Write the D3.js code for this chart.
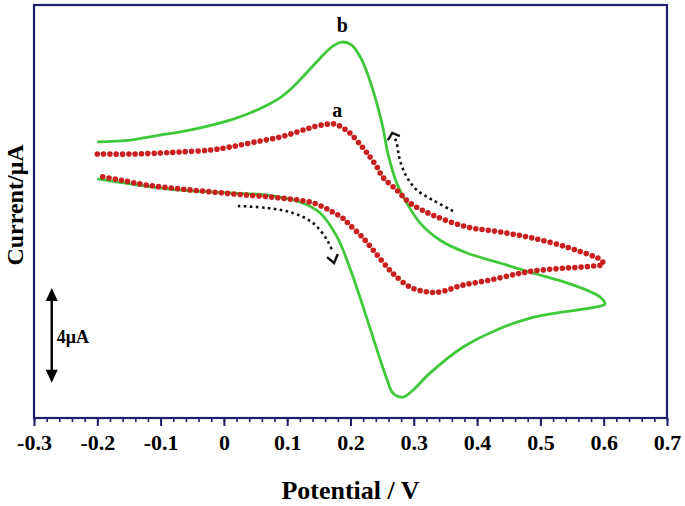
<!DOCTYPE html>
<html>
<head>
<meta charset="utf-8">
<script src="https://cdn.jsdelivr.net/npm/d3@7"></script>
<style>
  html, body { margin: 0; padding: 0; background: #fff; }
  svg { display: block; }
  text { font-family: "Liberation Serif", "Times New Roman", serif; font-weight: bold; fill: #000; }
</style>
</head>
<body>
<svg id="chart" width="685" height="506"></svg>
<script>
// ---- data (Potential in V, Current in µA) ----
const xTicks = [-0.3, -0.2, -0.1, 0, 0.1, 0.2, 0.3, 0.4, 0.5, 0.6, 0.7];
const xTickLabels = ["-0.3", "-0.2", "-0.1", "0", "0.1", "0.2", "0.3", "0.4", "0.5", "0.6", "0.7"];

// curve b (green, solid)
const curveB = [
  [-0.200, 2.43], [-0.148, 2.51], [-0.101, 2.72], [-0.069, 2.85], [0.010, 3.35], [0.041, 3.65],
  [0.068, 3.98], [0.089, 4.30], [0.104, 4.62], [0.120, 5.04], [0.136, 5.50], [0.152, 5.96],
  [0.172, 6.47], [0.187, 6.64], [0.202, 6.51],
  [0.218, 5.88], [0.234, 4.74], [0.251, 3.06], [0.259, 1.96], [0.273, 0.70], [0.289, -0.14],
  [0.310, -0.99], [0.341, -1.70], [0.384, -2.25], [0.436, -2.67], [0.488, -3.09], [0.542, -3.51],
  [0.583, -3.93], [0.596, -4.14], [0.602, -4.40],
  [0.589, -4.52], [0.536, -4.73], [0.484, -4.99], [0.431, -5.49], [0.378, -6.21], [0.326, -7.30],
  [0.299, -8.02], [0.283, -8.32], [0.267, -8.15], [0.258, -7.60], [0.242, -6.34], [0.220, -4.52],
  [0.199, -2.88], [0.179, -1.58], [0.152, -0.56], [0.120, -0.10], [0.068, 0.19], [0.010, 0.28],
  [-0.069, 0.40], [-0.148, 0.66], [-0.200, 0.87]
];

// curve a (red, dotted markers)
const curveA = [
  [-0.200, 1.92], [-0.148, 1.92], [-0.101, 1.96], [-0.069, 2.01], [-0.022, 2.09], [0.010, 2.22],
  [0.049, 2.43], [0.089, 2.64], [0.120, 2.89], [0.141, 3.06], [0.163, 3.18], [0.176, 3.18],
  [0.188, 3.02], [0.199, 2.81], [0.220, 2.17], [0.231, 1.79], [0.242, 1.37], [0.251, 0.95],
  [0.273, 0.40], [0.294, -0.14], [0.330, -0.65], [0.384, -1.15], [0.436, -1.36], [0.488, -1.62],
  [0.542, -2.00], [0.578, -2.33], [0.591, -2.46], [0.600, -2.71],
  [0.583, -2.80], [0.542, -2.88], [0.488, -3.01], [0.463, -3.13], [0.420, -3.39], [0.378, -3.60],
  [0.341, -3.89], [0.321, -3.89], [0.294, -3.68], [0.273, -3.26], [0.262, -2.97], [0.242, -2.33],
  [0.220, -1.62], [0.199, -1.07], [0.188, -0.78], [0.172, -0.52], [0.141, -0.14], [0.089, 0.07],
  [0.036, 0.19], [-0.017, 0.32], [-0.069, 0.45], [-0.121, 0.61], [-0.164, 0.83], [-0.196, 0.99],
  [-0.200, 1.04]
];

// scan-direction arrows (dotted)
const arrowUpper = [[0.362, -0.48], [0.330, -0.02], [0.305, 0.40], [0.289, 0.95], [0.278, 1.67], [0.273, 2.38], [0.270, 2.59]];
const arrowUpperHead = [[0.259, 2.51], [0.266, 2.81], [0.278, 2.68]];
const arrowLower = [[0.022, -0.27], [0.068, -0.35], [0.109, -0.56], [0.141, -0.99], [0.163, -1.70], [0.172, -2.21]];
const arrowLowerHead = [[0.163, -2.42], [0.174, -2.67], [0.180, -2.29]];

// curve labels
const curveLabels = [{ text: "a", v: 0.179, i: 3.48 }, { text: "b", v: 0.187, i: 7.06 }];

// scale bar: 4 µA
const scaleBar = { v: -0.272, top: -3.72, length: 4, label: "4μA" };

const xLabel = "Potential / V";
const yLabel = "Current/μA";

// ---- layout ----
const svg = d3.select("#chart");
const plot = { left: 34, right: 667, top: 5, bottom: 418 };
const x = d3.scaleLinear().domain([-0.3, 0.7]).range([plot.left, plot.right]);
const y = d3.scaleLinear().domain([-9.2, 8.2]).range([plot.bottom, plot.top]);
const navy = "#1d1f6b";

const line = d3.line().x(d => x(d[0])).y(d => y(d[1]));

// curve b
svg.append("path").attr("d", line.curve(d3.curveCatmullRom.alpha(0.5))(curveB))
  .attr("fill", "none").attr("stroke", "#3fc83a").attr("stroke-width", 2.8)
  .attr("stroke-linejoin", "round");

// curve a as dotted markers
svg.append("path").attr("d", line.curve(d3.curveCatmullRom.alpha(0.5))(curveA))
  .attr("fill", "none").attr("stroke", "#c91f1f").attr("stroke-width", 5.6)
  .attr("stroke-linecap", "round").attr("stroke-dasharray", "0 6.3");

// arrows
const straight = d3.line().x(d => x(d[0])).y(d => y(d[1]));
[arrowUpper, arrowLower].forEach(a => {
  svg.append("path").attr("d", line.curve(d3.curveCatmullRom.alpha(0.5))(a))
    .attr("fill", "none").attr("stroke", "#111").attr("stroke-width", 2.6)
    .attr("stroke-dasharray", "2.6 3.4");
});
[arrowUpperHead, arrowLowerHead].forEach(h => {
  svg.append("path").attr("d", straight(h))
    .attr("fill", "none").attr("stroke", "#111").attr("stroke-width", 2.4)
    .attr("stroke-linejoin", "miter");
});

// curve labels
svg.selectAll("text.clabel").data(curveLabels).enter().append("text")
  .attr("class", "clabel")
  .attr("x", d => x(d.v)).attr("y", d => y(d.i))
  .attr("text-anchor", "middle").attr("font-size", 20).text(d => d.text);

// scale bar
const sbx = x(scaleBar.v);
const sbTop = y(scaleBar.top), sbBot = y(scaleBar.top - scaleBar.length);
svg.append("line").attr("x1", sbx).attr("x2", sbx).attr("y1", sbTop + 8).attr("y2", sbBot - 8)
  .attr("stroke", "#000").attr("stroke-width", 2.4);
svg.append("path").attr("d", `M${sbx},${sbTop} L${sbx - 6},${sbTop + 13} L${sbx + 6},${sbTop + 13} Z`).attr("fill", "#000");
svg.append("path").attr("d", `M${sbx},${sbBot} L${sbx - 6},${sbBot - 13} L${sbx + 6},${sbBot - 13} Z`).attr("fill", "#000");
svg.append("text").attr("x", sbx + 5).attr("y", (sbTop + sbBot) / 2 + 8)
  .attr("font-size", 18).text(scaleBar.label);

// frame
svg.append("rect").attr("x", plot.left).attr("y", plot.top)
  .attr("width", plot.right - plot.left).attr("height", plot.bottom - plot.top)
  .attr("fill", "none").attr("stroke", navy).attr("stroke-width", 2.2);

// x axis: minor ticks
const minor = d3.range(0, 51).map(k => -0.3 + k * 0.02);
const minorAxis = svg.append("g").attr("transform", `translate(0,${plot.bottom})`)
  .call(d3.axisBottom(x).tickValues(minor).tickSize(4).tickFormat(""));
minorAxis.select(".domain").remove();
minorAxis.selectAll("line").attr("stroke", navy).attr("stroke-width", 1.6);

// x axis: major ticks + labels
const majorAxis = svg.append("g").attr("transform", `translate(0,${plot.bottom})`)
  .call(d3.axisBottom(x).tickValues(xTicks).tickSize(8).tickPadding(8)
    .tickFormat((d, i) => xTickLabels[i]));
majorAxis.select(".domain").remove();
majorAxis.selectAll("line").attr("stroke", navy).attr("stroke-width", 2);
majorAxis.selectAll("text")
  .attr("font-family", "'Liberation Serif', 'Times New Roman', serif")
  .attr("font-weight", "bold").attr("font-size", 22).attr("fill", "#000");

// axis titles
svg.append("text").attr("x", (plot.left + plot.right) / 2).attr("y", 499)
  .attr("text-anchor", "middle").attr("font-size", 26).text(xLabel);
svg.append("text").attr("transform", "translate(23,205) rotate(-90)")
  .attr("text-anchor", "middle").attr("font-size", 24).text(yLabel);
</script>
</body>
</html>
